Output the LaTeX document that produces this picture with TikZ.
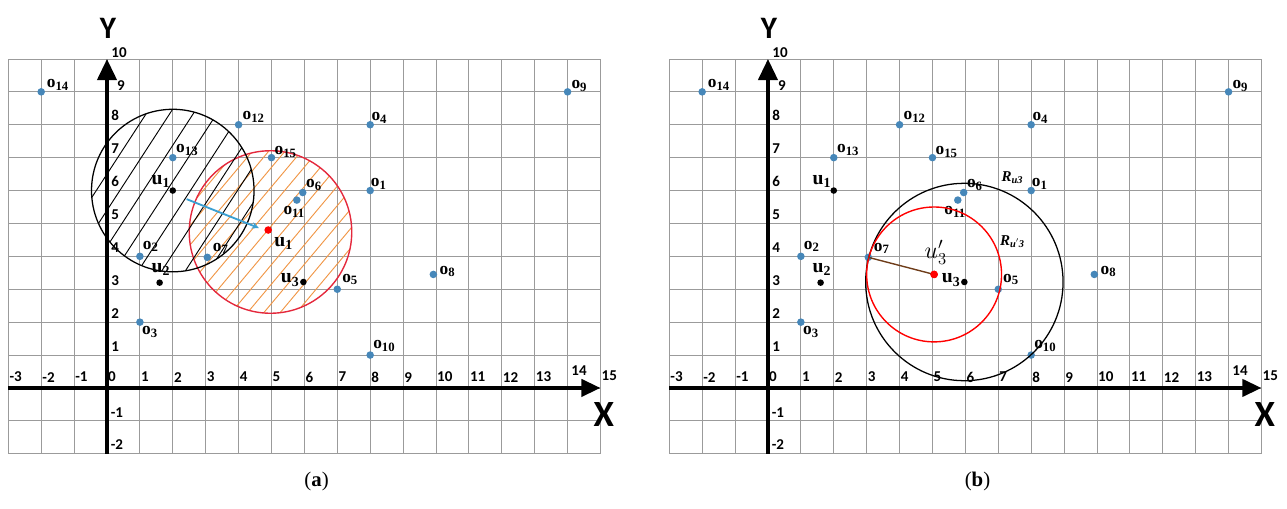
\documentclass[tikz,border=0pt]{standalone}
\usepackage{fontspec}
\setmainfont{Liberation Serif}
\newfontfamily\numfont{Carlito}
\usetikzlibrary{arrows.meta}
\definecolor{obj}{RGB}{70,135,185}
\definecolor{arrblue}{RGB}{60,160,210}
\definecolor{hatchor}{RGB}{240,150,70}
\definecolor{circred}{RGB}{228,40,60}
\definecolor{gridgray}{RGB}{155,155,155}
\definecolor{linkbrown}{RGB}{110,60,25}
\newcommand\ob[1]{o\raisebox{-0.35ex}{\fontsize{11}{11}\selectfont #1}}
\newcommand\ub[1]{u\raisebox{-0.35ex}{\fontsize{12}{12}\selectfont #1}}
\tikzset{
  gridl/.style={draw=gridgray, line width=0.75pt},
  axisx/.style={line width=3.2pt, -{Triangle[length=0.58cm,width=0.52cm]}},
  axisy/.style={line width=3.2pt, -{Triangle[length=0.64cm,width=0.58cm]}},
  tick/.style={font=\numfont\bfseries\fontsize{13}{13}\selectfont, inner sep=0pt, anchor=west},
  bdot/.style={circle, fill=obj, inner sep=0pt, minimum size=0.23cm},
  kdot/.style={circle, fill=black, inner sep=0pt, minimum size=0.2cm},
  rdot/.style={circle, fill=red, inner sep=0pt, minimum size=0.23cm},
  olab/.style={font=\bfseries\fontsize{15}{15}\selectfont, inner sep=0pt},
  ulab/.style={font=\bfseries\fontsize{17}{17}\selectfont, inner sep=0pt},
  axlab/.style={font=\numfont\bfseries\fontsize{32}{32}\selectfont, inner sep=0pt},
  capt/.style={font=\fontsize{18}{18}\selectfont, inner sep=0pt},
  rlab/.style={font=\bfseries\itshape\fontsize{13}{13}\selectfont, inner sep=0pt},
  hatchk/.style={black, line width=0.8pt},
  hatcho/.style={hatchor, line width=0.8pt},
}
\newcommand\panelgrid{\draw[gridl] (-3,-2) grid (15,10);}
\newcommand\panelaxes[1]{%
  \coordinate (xs) at (-3,0); \coordinate (xe) at (15,0);
  \coordinate (ys) at (0,-2); \coordinate (ye) at (0,10);
  \draw[axisx] (xs) -- (xe);
  \draw[axisy] (ys) -- (ye);
  \node[axlab] (X) at (15.1,-0.8) {X};
  \node[axlab, font=\numfont\bfseries\fontsize{27}{27}\selectfont] (Y) at (0.03,10.94) {Y};
  \foreach \i in {-3,...,13} \node[tick] (tx\i) at (\i+0.03,0.33) {\i};
  \node[tick, anchor=center] (tx14) at (14.35,0.53) {14};
  \node[tick, anchor=center] (tx15) at (15.27,0.36) {15};
  \foreach \j in {1,...,8} \node[tick] (ty\j) at (0.13,\j+0.27) {\j};
  \node[tick] (ty9) at (0.3,9.2) {9};
  \node[tick] (ty10) at (0.13,10.2) {10};
  \node[tick] (tym1) at (0.11,-0.75) {-1};
  \node[tick] (tym2) at (0.11,-1.73) {-2};
  \node[capt] (cap) at (6.37,-2.83) {(\textbf{#1})};
}
\newcommand\panelpoints{%
  \foreach \n/\x/\y in {1/8/6, 2/1/4, 3/1/2, 4/8/8, 5/7/3, 6/5.95/5.94, 7/3.05/3.97,
      8/9.92/3.45, 9/14/9, 10/8/1, 11/5.77/5.71, 12/4/8, 13/2/7, 14/-2/9, 15/5/7}
    \node[bdot] (o\n) at (\x,\y) {};
  \foreach \n/\x/\y in {1/8.25/6.2, 2/1.32/4.3, 3/1.3/1.7, 4/8.27/8.2, 5/7.38/3.3,
      6/6.28/6.18, 7/3.45/4.24, 8/10.34/3.54, 9/14.35/9.18, 10/8.42/1.27,
      11/5.68/5.35, 12/4.45/8.25, 13/2.43/7.23, 14/-1.5/9.2, 15/5.42/7.18}
    \node[olab] (lo\n) at (\x,\y) {\ob{\n}};
  \node[kdot] (u1) at (2,6) {};
  \node[kdot] (u2) at (1.6,3.2) {};
  \node[kdot] (u3) at (5.97,3.22) {};
  \node[ulab] (lu1) at (1.63,6.28) {\ub{1}};
  \node[ulab] (lu2) at (1.63,3.6) {\ub{2}};
  \node[ulab] (lu3) at (5.56,3.28) {\ub{3}};
}
\begin{document}
\begin{tikzpicture}
\useasboundingbox (0,0) rectangle (39.12,15.47);
% ---------------- panel (a)
\begin{scope}[shift={(3.252,3.678)}, name prefix=a-]
  \panelgrid
  \coordinate (rc) at (4.97,4.74);
  \begin{scope}[shift={(4.97,4.74)}, rotate=50]
    \clip (0,0) circle (2.47);
    \foreach \k in {-7,...,7} \draw[hatcho] (-3,\k*0.38+0.1) -- (3,\k*0.38+0.1);
  \end{scope}
  \draw[circred, line width=1.2pt] (rc) circle (2.47);
  \begin{scope}[shift={(2,6)}, rotate=57]
    \clip (0,0) circle (2.47);
    \foreach \k in {-5,...,5} \draw[hatchk] (-3,\k*0.6+0.15) -- (3,\k*0.6+0.15);
  \end{scope}
  \draw[black, line width=1.1pt] (2,6) circle (2.47);
  \panelaxes{a}
  \panelpoints
  \node[rdot] (u1p) at (4.9,4.8) {};
  \node[ulab] (lu1p) at (5.36,4.4) {\ub{1}};
  \coordinate (as) at (2.42,5.74);
  \coordinate (ae) at (4.62,4.86);
  \draw[arrblue, line width=1.6pt, -{Stealth[length=0.22cm,width=0.2cm]}] (as) -- (ae);
\end{scope}
% ---------------- panel (b)
\begin{scope}[shift={(23.343,3.678)}, name prefix=b-]
  \panelgrid
  \panelaxes{b}
  \panelpoints
  \node[rdot] (u3p) at (5.05,3.45) {};
  \draw[black, line width=1.1pt] (u3) circle (3.0);
  \draw[red, line width=1.2pt] (u3p) circle (2.05);
  \draw[linkbrown, line width=1.2pt] (o7.center) -- (u3p.center);
  \node[rdot] (u3pt) at (5.05,3.45) {};
  \node[font=\fontsize{20}{20}\selectfont, inner sep=0pt] (lu3p) at (5.1,4.12) {$u_3^{\prime}$};
  \node[rlab] (R1) at (7.42,6.38) {R\raisebox{-0.3ex}{\fontsize{9}{9}\selectfont u3}};
  \node[rlab] (R2) at (7.42,4.46) {R\raisebox{-0.3ex}{\fontsize{9}{9}\selectfont u$'$3}};
\end{scope}
\end{tikzpicture}
\end{document}
